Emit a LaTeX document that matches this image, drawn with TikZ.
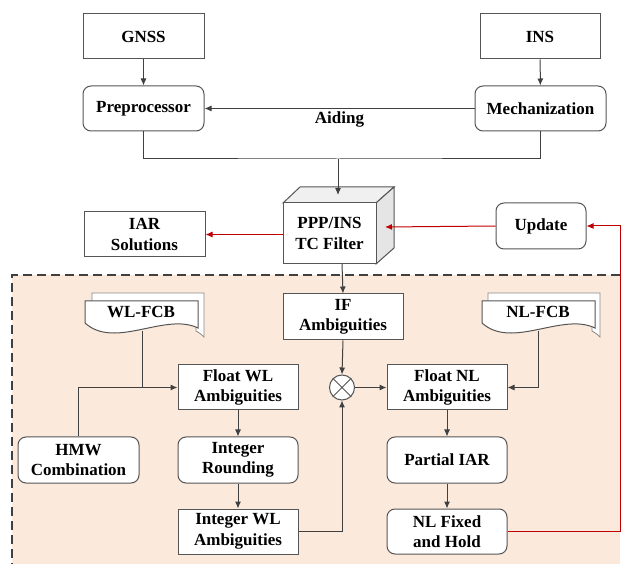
\documentclass[tikz,border=0pt]{standalone}
\usepackage{fontspec}
\setmainfont{Liberation Serif}
\usetikzlibrary{arrows.meta}
\definecolor{ln}{HTML}{404040}
\definecolor{bd}{HTML}{555555}
\definecolor{rd}{HTML}{C00000}
\definecolor{bgc}{HTML}{FBE9DB}
\begin{document}
\begin{tikzpicture}[x=1pt,y=-1pt,
  every node/.style={font=\fontsize{17}{20.5}\selectfont\bfseries, align=center, inner sep=0pt},
  box/.style={draw=bd, line width=1pt, fill=white, minimum width=121pt, minimum height=45pt},
  rbox/.style={box, rounded corners=8pt},
  plain/.style={draw=ln, line width=1pt},
  conn/.style={plain, -{Latex[length=7pt,width=6pt]}},
  fb/.style={draw=rd, line width=1pt, -{Latex[length=7pt,width=6pt]}},
  docf/.style={draw=bd, line width=1pt, fill=white},
  docb/.style={draw=bd!70, line width=0.8pt, fill=white}]
\useasboundingbox (0,0) rectangle (622,564);
% dashed region
\fill[bgc] (12,275) rectangle (620,570);
\draw[ln, line width=1.2pt, dash pattern=on 9pt off 5pt] (620,275) -- (12,275) -- (12,570);

% top boxes
\node[box] (gnss) at (143.5,36.5) {GNSS};
\node[box, minimum width=120pt] (ins) at (540,36.5) {INS};
\node[rbox] (pre) at (143.5,108.5) {Preprocessor};
\node[rbox, minimum width=131pt] (mech) at (540.5,108.5) {Mechanization};
\draw[conn] (gnss) -- (pre);
\draw[conn] (ins) -- (mech);
\draw[conn] (mech.west) -- node[midway, yshift=-11pt] {Aiding} (pre.east);

% filter 3D box
\fill[gray!12, draw=bd, line width=1pt] (283,203) -- (300,187) -- (394,187) -- (376,203) -- cycle;
\fill[gray!20, draw=bd, line width=1pt] (376,203) -- (394,187) -- (394,248) -- (376,264) -- cycle;
\node[box, minimum width=93pt, minimum height=61pt] (filt) at (329.5,233.5) {PPP/INS\\TC Filter};
\coordinate (ftop) at (338,195);
\coordinate (fright) at (385,227);
\coordinate (fbot) at (342,264);
\coordinate (join) at (338,159);
\draw[plain] (pre.south) |- (join) -| (mech.south);
\draw[conn] (join) -- (ftop);

\node[box] (iar) at (144.5,234.5) {IAR\\Solutions};
\node[rbox, minimum width=90pt, minimum height=46pt] (upd) at (541,226) {Update};
\draw[fb] (filt.west |- iar.east) -- (iar.east);
\draw[fb] (upd.west) -- (fright);

% documents
\draw[docb] (92,293) -- (204,293) -- (204,337) .. controls (201,334) .. (196,331) -- (196,318) -- (92,318) -- cycle;
\draw[docf] (85,301) -- (198,301) -- (198,328) .. controls (165,312) and (115,350) .. (85,323) -- cycle;
\node (wl) at (141,312) {WL-FCB};
\coordinate (wlb) at (142,331);
\draw[docb] (488,293) -- (600,293) -- (600,337) .. controls (597,334) .. (592,331) -- (592,318) -- (488,318) -- cycle;
\draw[docf] (482,301) -- (595,301) -- (595,328) .. controls (562,312) and (512,350) .. (482,323) -- cycle;
\node (nl) at (538,312) {NL-FCB};
\coordinate (nlb) at (538,331);

\node[box, minimum width=120pt, minimum height=46pt] (if) at (343,317) {IF\\Ambiguities};
\node[box, minimum width=120pt] (flwl) at (238,387.5) {Float WL\\Ambiguities};
\node[box, minimum width=120pt] (flnl) at (447,387.5) {Float NL\\Ambiguities};
\node[circle, draw=bd, line width=1pt, fill=white, minimum size=25pt] (cir) at (342,387.5) {};
\draw[bd, line width=1pt] (cir.north west) -- (cir.south east) (cir.north east) -- (cir.south west);

\node[rbox, minimum height=46pt] (hmw) at (78.5,460) {HMW\\Combination};
\node[rbox, minimum width=120pt, minimum height=46pt] (iround) at (238,460) {Integer\\Rounding};
\node[rbox, minimum width=120pt, minimum height=46pt] (piar) at (447,460) {Partial IAR};
\node[box, minimum width=120pt] (iwl) at (238,531.5) {Integer WL\\Ambiguities};
\node[rbox, minimum width=120pt] (nlfix) at (447,531.5) {NL Fixed\\and Hold};

\draw[conn] (fbot) -- (if.north);
\draw[conn] (if.south) -- (cir.north);
\draw[conn] (cir.east) -- (flnl.west);
\draw[conn] (iwl.east) -| (cir.south);
\draw[conn] (hmw.north) |- (flwl.west);
\draw[plain] (wlb) -- (wlb |- flwl.west);
\draw[conn] (nlb) |- (flnl.east);
\draw[conn] (flwl) -- (iround);
\draw[conn] (iround) -- (iwl);
\draw[conn] (flnl) -- (piar);
\draw[conn] (piar) -- (nlfix);
\coordinate (rc) at (620,531.5);
\draw[fb] (nlfix.east) -- (rc) |- (upd.east);
\end{tikzpicture}
\end{document}
